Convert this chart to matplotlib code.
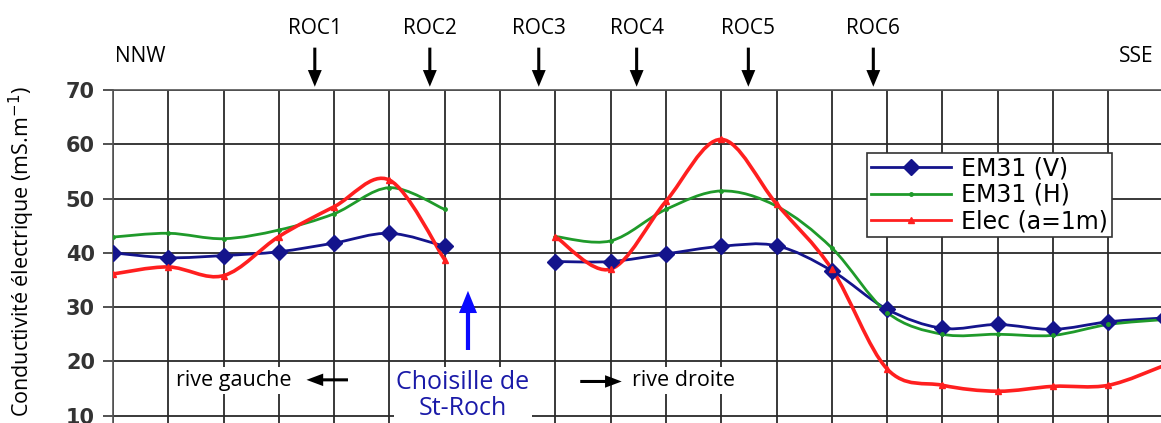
import numpy as np
import matplotlib.pyplot as plt
from matplotlib.path import Path
from matplotlib.patches import PathPatch
from matplotlib.lines import Line2D

# positions along the profile (grid index), 7 = gap (river)
x = list(range(20))
em31_v = [40.0, 39.1, 39.5, 40.2, 41.8, 43.6, 41.2, np.nan, 38.4, 38.4,
          39.8, 41.2, 41.3, 36.7, 29.6, 26.1, 26.8, 25.9, 27.3, 28.0]
em31_h = [42.9, 43.6, 42.6, 44.2, 47.2, 52.0, 48.0, np.nan, 43.0, 42.2,
          48.0, 51.4, 48.6, 40.9, 29.0, 25.0, 25.0, 24.8, 26.8, 27.7]
elec = [36.1, 37.4, 35.8, 43.0, 48.5, 53.4, 38.7, np.nan, 43.0, 37.0,
        49.5, 60.9, 49.0, 37.0, 18.6, 15.6, 14.5, 15.4, 15.6, 19.2]

roc_labels = ["ROC1", "ROC2", "ROC3", "ROC4", "ROC5", "ROC6"]
roc_pos = [3.65, 5.73, 7.70, 9.47, 11.49, 13.75]

plt.rcParams['font.family'] = ['Open Sans', 'DejaVu Sans']

fig = plt.figure(figsize=(11.61, 4.23), dpi=100)
ax = fig.add_axes([0.0973, -0.111, 0.9526, 0.8983])
ax.set_xlim(0, 20)
ax.set_ylim(0, 70)


def smooth_path(xs, ys):
    # cubic bezier (catmull-rom) pieces, like excel's smoothed lines
    verts, codes = [], []
    n = len(xs)
    pts = np.column_stack([xs, ys])
    for i in range(n - 1):
        p0 = pts[max(i - 1, 0)]
        p1 = pts[i]
        p2 = pts[i + 1]
        p3 = pts[min(i + 2, n - 1)]
        c1 = p1 + (p2 - p0) / 6
        c2 = p2 - (p3 - p1) / 6
        if i == 0:
            verts.append(p1)
            codes.append(Path.MOVETO)
        verts += [c1, c2, p2]
        codes += [Path.CURVE4] * 3
    return Path(verts, codes)


def draw_series(vals, color, lw, marker, ms):
    xs = np.array(x, dtype=float)
    ys = np.array(vals, dtype=float)
    ok = ~np.isnan(ys)
    # split in runs without gaps
    start = None
    for i in range(len(ys) + 1):
        if i < len(ys) and ok[i]:
            if start is None:
                start = i
        elif start is not None:
            p = smooth_path(xs[start:i], ys[start:i])
            ax.add_patch(PathPatch(p, facecolor='none', edgecolor=color,
                                   lw=lw, zorder=3, capstyle='round'))
            start = None
    ax.plot(xs, ys, linestyle='none', marker=marker, color=color,
            markersize=ms, zorder=4)


blue = '#14148c'
green = '#1f9a2a'
red = '#ff1f1f'
draw_series(em31_v, blue, 2.0, 'D', 8)
draw_series(em31_h, green, 2.0, 'o', 2.5)
draw_series(elec, red, 2.6, '^', 4)

ax.set_xticks(range(21))
ax.set_xticklabels([])
ax.set_yticks(range(0, 71, 10))
ax.tick_params(axis='x', length=0)
ax.tick_params(axis='y', length=7, width=1.2, color='#333333', pad=6,
               labelsize=15, labelcolor='#333333')
for lab in ax.get_yticklabels():
    lab.set_family('DejaVu Sans')
    lab.set_fontweight('bold')
ax.grid(True, color='#2a2a2a', linewidth=1.3, zorder=1)
ax.set_axisbelow(True)
for s in ax.spines.values():
    s.set_color('#555555')
    s.set_linewidth(1.2)

# legend
handles = [
    Line2D([], [], color=blue, lw=2, marker='D', markersize=8),
    Line2D([], [], color=green, lw=2, marker='o', markersize=2.5),
    Line2D([], [], color=red, lw=2, marker='^', markersize=4),
]
leg = ax.legend(handles, ["EM31 (V)", "EM31 (H)", "Elec (a=1m)"],
                loc='upper left', bbox_to_anchor=(867 / 1161, 1 - 153 / 423),
                bbox_transform=fig.transFigure, fancybox=False,
                edgecolor='#333333', framealpha=1, handlelength=3.4,
                borderpad=0.15, labelspacing=0.1, handletextpad=0.45,
                borderaxespad=0,
                prop={'family': 'DejaVu Sans', 'size': 17})
leg.get_frame().set_linewidth(1.2)
leg.set_zorder(5)

# top labels and arrows
for lab, pos in zip(roc_labels, roc_pos):
    ax.text(pos, 81.4, lab, ha='center', va='center', fontsize=15,
            clip_on=False)
    ax.annotate('', xy=(pos, 70.6), xytext=(pos, 77.8),
                arrowprops=dict(facecolor='black', edgecolor='none',
                                width=2.2, headwidth=10, headlength=12),
                annotation_clip=False)
ax.text(0.49, 76.1, "NNW", ha='center', va='center', fontsize=15,
        clip_on=False)
ax.text(18.2, 76.1, "SSE", ha='left', va='center', fontsize=15,
        clip_on=False)

# bottom annotations
white = dict(facecolor='white', edgecolor='none', pad=2)
ax.text(2.19, 16.5, "rive gauche", ha='center', va='center', fontsize=15.5,
        bbox=white, zorder=5)
ax.annotate('', xy=(3.50, 16.6), xytext=(4.25, 16.6),
            arrowprops=dict(facecolor='black', edgecolor='none',
                            width=2.2, headwidth=9, headlength=12),
            zorder=5)
ax.text(6.33, 13.8, "Choisille de\nSt-Roch", ha='center', va='center',
        fontsize=18, color='#1a1aa8', linespacing=1.05, bbox=white, zorder=5)
ax.annotate('', xy=(6.42, 33.0), xytext=(6.42, 22.1),
            arrowprops=dict(facecolor='#0a0aff', edgecolor='none',
                            width=3, headwidth=13, headlength=16),
            zorder=5)
ax.annotate('', xy=(9.20, 16.3), xytext=(8.45, 16.3),
            arrowprops=dict(facecolor='black', edgecolor='none',
                            width=2.2, headwidth=9, headlength=12),
            zorder=5)
ax.text(9.39, 16.5, "rive droite", ha='left', va='center', fontsize=15.5,
        bbox=white, zorder=5)

fig.text(22 / 1161, 1 - 86 / 423, "Conductivité électrique (mS.m$^{-1}$)",
         rotation=90, ha='center', va='top', fontsize=15.5)

fig.savefig('out.png', dpi=100)
